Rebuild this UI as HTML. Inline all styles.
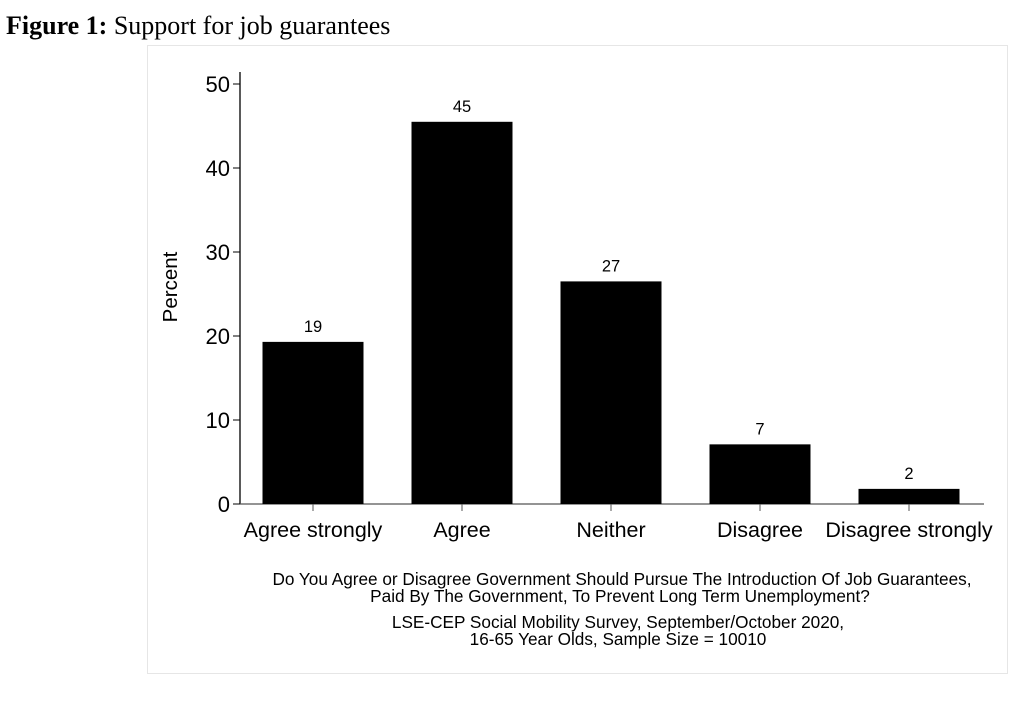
<!DOCTYPE html>
<html><head><meta charset="utf-8"><style>
body{margin:0;background:#fff;width:1024px;height:703px;overflow:hidden}
svg text{font-family:"Liberation Sans",sans-serif}
</style></head><body>
<svg width="1024" height="703">
<text x="6" y="34" font-size="26" style="font-family:'Liberation Serif',serif"><tspan font-weight="bold">Figure 1:</tspan> Support for job guarantees</text>
<rect x="147.5" y="45.5" width="860" height="628" fill="#fff" stroke="#e6e6e6"/>
<g id="plot"></g>
<text transform="translate(177,287) rotate(-90)" text-anchor="middle" font-size="20.5">Percent</text>
<g font-size="17.2" text-anchor="middle">
<text x="622" y="585">Do You Agree or Disagree Government Should Pursue The Introduction Of Job Guarantees,</text>
<text x="620" y="602">Paid By The Government, To Prevent Long Term Unemployment?</text>
<text x="618" y="628">LSE-CEP Social Mobility Survey, September/October 2020,</text>
<text x="618" y="645">16-65 Year Olds, Sample Size = 10010</text>
</g>
</svg>
<script>
const categories=["Agree strongly","Agree","Neither","Disagree","Disagree strongly"];
const values=[19.3,45.5,26.5,7.1,1.8];
const valueLabels=["19","45","27","7","2"];
const yTicks=[0,10,20,30,40,50];
const NS="http://www.w3.org/2000/svg";
const g=document.getElementById('plot');
const y0=504,yTop=84,yMax=50;
const y=v=>y0-(v/yMax)*(y0-yTop);
const xStart=238,step=149,barW=101;
const xc=i=>xStart+75+i*step;
function mk(t,a,txt){const e=document.createElementNS(NS,t);for(const k in a)e.setAttribute(k,a[k]);if(txt!==undefined)e.textContent=txt;g.appendChild(e);return e;}
let e=mk('line',{x1:240,y1:72,x2:240,y2:y0,stroke:'#000','stroke-width':1.3});


e=mk('line',{x1:240,y1:y0,x2:984,y2:y0,stroke:'#555','stroke-width':1.3});


yTicks.forEach(t=>{
 e=mk('line',{x1:233,y1:y(t),x2:240,y2:y(t),stroke:'#000','stroke-width':1});
 
 
 e=mk('text',{x:230,y:y(t)+8,'text-anchor':'end','font-size':22},String(t));
 
 
});
categories.forEach((c,i)=>{
 const cx=xc(i);
 e=mk('rect',{x:cx-barW/2,y:y(values[i]),width:barW,height:y0-y(values[i]),fill:'#000'});
 
 
 e=mk('text',{x:cx,y:y(values[i])-10,'text-anchor':'middle','font-size':16.5},valueLabels[i]);
 
 
 e=mk('line',{x1:cx,y1:y0,x2:cx,y2:y0+7,stroke:'#555','stroke-width':1});
 
 
 e=mk('text',{x:cx,y:537,'text-anchor':'middle','font-size':21.5},c);
 
 
});
</script>
</body></html>
